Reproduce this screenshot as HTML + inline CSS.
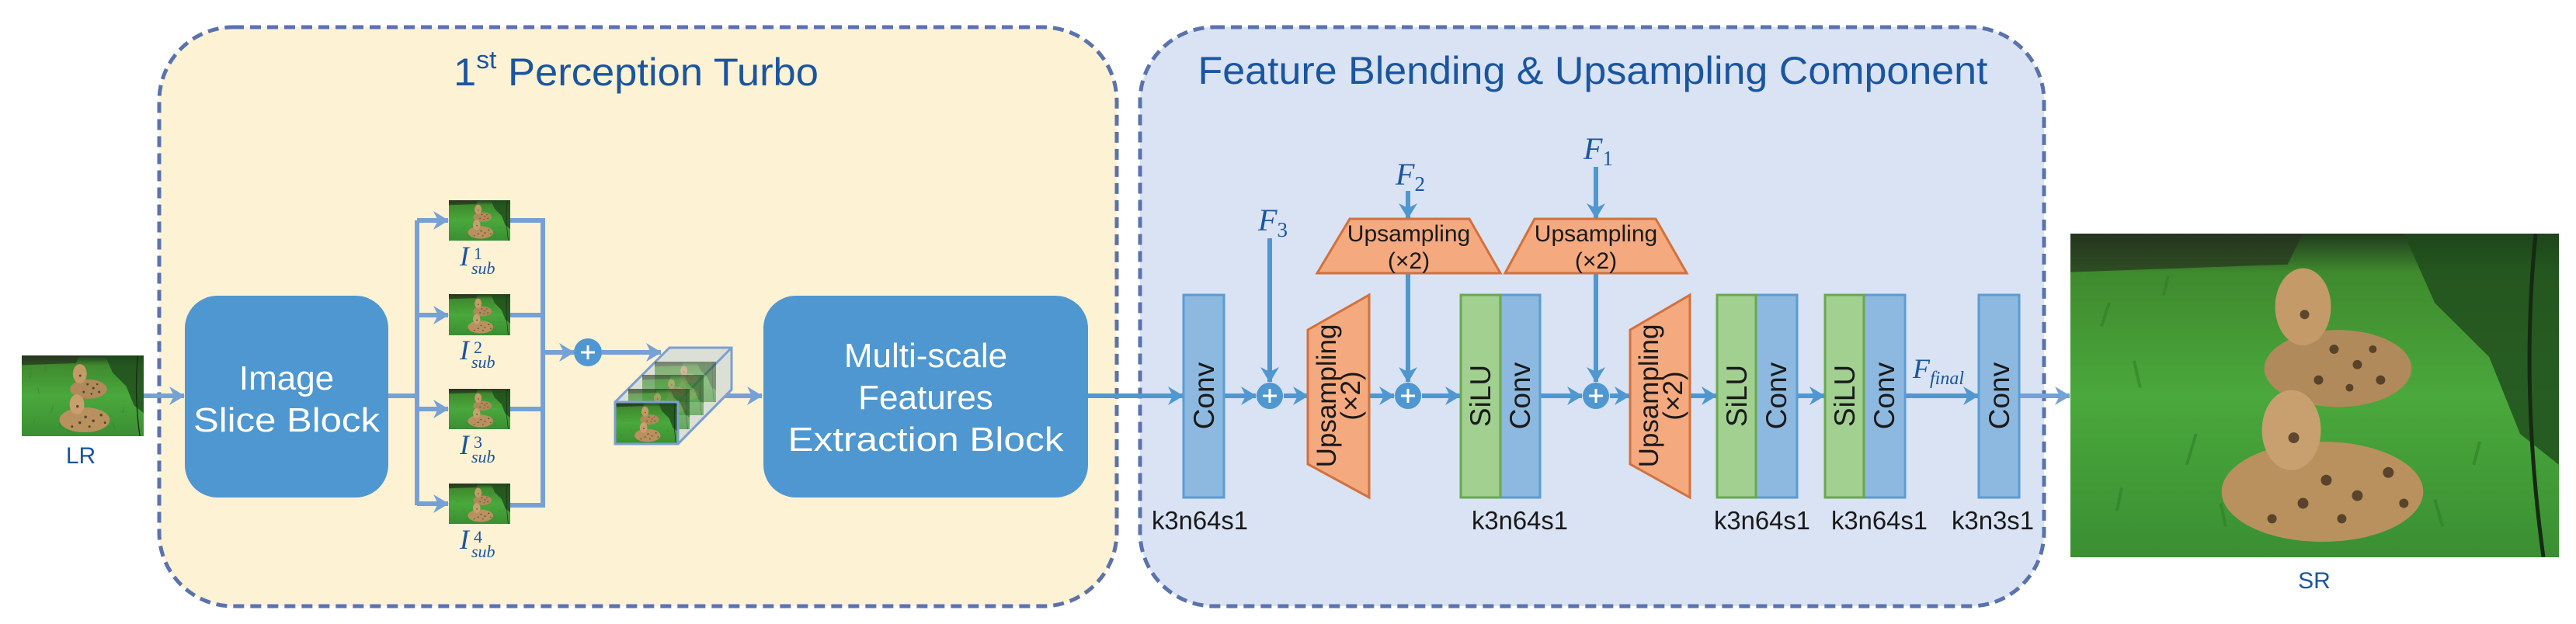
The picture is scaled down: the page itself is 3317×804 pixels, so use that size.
<!DOCTYPE html>
<html><head><meta charset="utf-8"><style>
html,body{margin:0;padding:0;background:#fff;}
svg{display:block;}
</style></head><body>
<svg width="3317" height="804" viewBox="0 0 3317 804" xmlns="http://www.w3.org/2000/svg">
<defs>
<linearGradient id="gr" x1="0" y1="0" x2="0" y2="1">
<stop offset="0" stop-color="#1f3a1c"/><stop offset="0.12" stop-color="#3f8a2e"/><stop offset="0.5" stop-color="#4aa83c"/><stop offset="1" stop-color="#3a8f32"/>
</linearGradient>
<symbol id="scene" viewBox="0 0 630 420" preserveAspectRatio="none">
<rect width="630" height="420" fill="url(#gr)"/>
<path d="M430 0 L630 0 L630 300 L580 260 L540 160 L470 90 Z" fill="#1e4a1c" opacity="0.8"/>
<path d="M0 0 L300 0 L280 40 L0 50 Z" fill="#28331f" opacity="0.7"/>
<g stroke="#2f7a26" stroke-width="4" opacity="0.5">
<path d="M40 120 l10 -30 M90 200 l-8 -35 M150 300 l12 -40 M60 360 l6 -30 M480 380 l-10 -35 M520 300 l8 -30 M120 80 l6 -25 M200 380 l-6 -30"/>
</g>
<ellipse cx="345" cy="175" rx="95" ry="50" fill="#b08a5a"/>
<ellipse cx="300" cy="95" rx="36" ry="50" fill="#c49a68"/>
<ellipse cx="325" cy="335" rx="130" ry="65" fill="#b8915f"/>
<ellipse cx="285" cy="255" rx="38" ry="52" fill="#c8a070"/>
<g fill="#3a2a1a" opacity="0.75">
<circle cx="340" cy="150" r="6"/><circle cx="370" cy="170" r="6"/><circle cx="400" cy="190" r="6"/><circle cx="320" cy="190" r="6"/><circle cx="360" cy="200" r="5"/><circle cx="390" cy="150" r="5"/>
<circle cx="330" cy="320" r="7"/><circle cx="370" cy="340" r="7"/><circle cx="410" cy="310" r="7"/><circle cx="300" cy="350" r="7"/><circle cx="260" cy="370" r="6"/><circle cx="430" cy="350" r="6"/><circle cx="350" cy="370" r="6"/>
<circle cx="288" cy="265" r="7"/><circle cx="302" cy="105" r="6"/>
</g>
<path d="M600 0 Q580 200 610 420" stroke="#162a12" stroke-width="5" fill="none"/>
</symbol>
<marker id="ah" viewBox="0 0 20 24" refX="19" refY="12" markerWidth="20" markerHeight="24" markerUnits="userSpaceOnUse" orient="auto">
<path d="M0 0 L20 12 L0 24 L6 12 Z" fill="#4f97d0"/>
</marker>
<marker id="ah2" viewBox="0 0 20 24" refX="19" refY="12" markerWidth="20" markerHeight="24" markerUnits="userSpaceOnUse" orient="auto">
<path d="M0 0 L20 12 L0 24 L6 12 Z" fill="#76a1d6"/>
</marker>
</defs>

<rect x="205" y="35" width="1233" height="746" rx="95" ry="95" fill="#fdf2d4" stroke="#5a72ae" stroke-width="5" stroke-dasharray="14,8"/>
<rect x="1468" y="35" width="1164" height="746" rx="95" ry="95" fill="#d9e3f4" stroke="#5a72ae" stroke-width="5" stroke-dasharray="14,8"/>

<g font-family="Liberation Sans, sans-serif">
<text x="819" y="110" font-size="50" fill="#1a55a0" text-anchor="middle" textLength="470" lengthAdjust="spacingAndGlyphs">1<tspan font-size="32" dy="-22">st</tspan><tspan dy="22"> Perception Turbo</tspan></text>
<text x="2051" y="108" font-size="50" fill="#1a55a0" text-anchor="middle" textLength="1017" lengthAdjust="spacingAndGlyphs">Feature Blending &amp; Upsampling Component</text>
</g>

<svg x="28" y="458" width="157" height="104"><use href="#scene" width="157" height="104"/></svg>
<text x="104" y="597" font-family="Liberation Sans, sans-serif" font-size="30" fill="#1a55a0" text-anchor="middle">LR</text>
<line x1="185" y1="510" x2="237" y2="510" stroke="#76a1d6" stroke-width="6" marker-end="url(#ah2)"/>

<rect x="238" y="381" width="262" height="260" rx="42" fill="#4f97d0"/>
<g font-family="Liberation Sans, sans-serif" font-size="44" fill="#fff" text-anchor="middle">
<text x="369" y="502">Image</text>
<text x="369" y="556" textLength="240" lengthAdjust="spacingAndGlyphs">Slice Block</text>
</g>

<g stroke="#76a1d6" stroke-width="6" fill="none">
<line x1="500" y1="510" x2="537" y2="510"/>
<line x1="537" y1="284" x2="537" y2="651"/>
<line x1="537" y1="284" x2="577" y2="284" marker-end="url(#ah2)"/>
<line x1="537" y1="406" x2="577" y2="406" marker-end="url(#ah2)"/>
<line x1="537" y1="527" x2="577" y2="527" marker-end="url(#ah2)"/>
<line x1="537" y1="649" x2="577" y2="649" marker-end="url(#ah2)"/>
<polyline points="657,284 699,284 699,651 657,651"/>
<line x1="657" y1="406" x2="699" y2="406"/>
<line x1="657" y1="527" x2="699" y2="527"/>
<line x1="699" y1="454" x2="739" y2="454" marker-end="url(#ah2)"/>
<line x1="775" y1="454" x2="851" y2="454" marker-end="url(#ah2)"/>
<line x1="907" y1="510" x2="981" y2="510" marker-end="url(#ah2)"/>
</g>
<svg x="578" y="258" width="79" height="52"><use href="#scene" width="79" height="52"/></svg>
<svg x="578" y="379" width="79" height="53"><use href="#scene" width="79" height="53"/></svg>
<svg x="578" y="501" width="79" height="52"><use href="#scene" width="79" height="52"/></svg>
<svg x="578" y="623" width="79" height="52"><use href="#scene" width="79" height="52"/></svg>
<g font-family="Liberation Serif, serif" font-style="italic" fill="#1a55a0">
<text x="592" y="342" font-size="36">I</text><text x="610" y="334" font-size="22" font-style="normal">1</text><text x="607" y="353" font-size="22">sub</text>
<text x="592" y="463" font-size="36">I</text><text x="610" y="455" font-size="22" font-style="normal">2</text><text x="607" y="474" font-size="22">sub</text>
<text x="592" y="585" font-size="36">I</text><text x="610" y="577" font-size="22" font-style="normal">3</text><text x="607" y="596" font-size="22">sub</text>
<text x="592" y="707" font-size="36">I</text><text x="610" y="699" font-size="22" font-style="normal">4</text><text x="607" y="718" font-size="22">sub</text>
</g>
<circle cx="757" cy="454" r="18" fill="#4f97d0"/>
<path d="M757 445 V463 M748 454 H766" stroke="#fff" stroke-width="3"/>

<polygon points="792,518 862,448 942,448 942,502 873,572 792,572" fill="#dcdfd6" stroke="#7b9fd0" stroke-width="3"/>
<line x1="873" y1="518" x2="942" y2="448" stroke="#7b9fd0" stroke-width="3"/>
<svg x="843" y="466" width="79" height="52" opacity="0.55"><use href="#scene" width="79" height="52"/></svg>
<svg x="827" y="483" width="79" height="52" opacity="0.6"><use href="#scene" width="79" height="52"/></svg>
<svg x="809" y="501" width="79" height="52" opacity="0.7"><use href="#scene" width="79" height="52"/></svg>
<svg x="792" y="518" width="81" height="54"><use href="#scene" width="81" height="54"/></svg>
<rect x="792" y="518" width="81" height="54" fill="none" stroke="#7b9fd0" stroke-width="3"/>
<line x1="873" y1="572" x2="942" y2="502" stroke="#7b9fd0" stroke-width="3"/>

<rect x="983" y="381" width="418" height="260" rx="42" fill="#4f97d0"/>
<g font-family="Liberation Sans, sans-serif" font-size="44" fill="#fff" text-anchor="middle">
<text x="1192" y="473">Multi-scale</text>
<text x="1192" y="527">Features</text>
<text x="1192" y="581" textLength="355" lengthAdjust="spacingAndGlyphs">Extraction Block</text>
</g>

<g stroke="#4f97d0" stroke-width="6" fill="none">
<line x1="1401" y1="510" x2="1523" y2="510" marker-end="url(#ah)"/>
<line x1="1576" y1="510" x2="1617" y2="510" marker-end="url(#ah)"/>
<line x1="1653" y1="510" x2="1684" y2="510" marker-end="url(#ah)"/>
<line x1="1762" y1="510" x2="1795" y2="510" marker-end="url(#ah)"/>
<line x1="1831" y1="510" x2="1880" y2="510" marker-end="url(#ah)"/>
<line x1="1983" y1="510" x2="2037" y2="510" marker-end="url(#ah)"/>
<line x1="2073" y1="510" x2="2098" y2="510" marker-end="url(#ah)"/>
<line x1="2176" y1="510" x2="2210" y2="510" marker-end="url(#ah)"/>
<line x1="2314" y1="510" x2="2349" y2="510" marker-end="url(#ah)"/>
<line x1="2453" y1="510" x2="2547" y2="510" marker-end="url(#ah)"/>
<line x1="2600" y1="510" x2="2665" y2="510" stroke="#76a1d6" marker-end="url(#ah2)"/>
<line x1="1635" y1="307" x2="1635" y2="492" marker-end="url(#ah)"/>
<line x1="1813" y1="246" x2="1813" y2="281" marker-end="url(#ah)"/>
<line x1="1813" y1="352" x2="1813" y2="492" marker-end="url(#ah)"/>
<line x1="2055" y1="215" x2="2055" y2="281" marker-end="url(#ah)"/>
<line x1="2055" y1="352" x2="2055" y2="492" marker-end="url(#ah)"/>
</g>
<g fill="#4f97d0">
<circle cx="1635" cy="510" r="17"/><circle cx="1813" cy="510" r="17"/><circle cx="2055" cy="510" r="17"/>
</g>
<path d="M1635 501 V519 M1626 510 H1644 M1813 501 V519 M1804 510 H1822 M2055 501 V519 M2046 510 H2064" stroke="#fff" stroke-width="3"/>

<g font-family="Liberation Serif, serif" font-style="italic" fill="#1a55a0">
<text x="1620" y="297" font-size="40">F<tspan font-size="27" dy="8" font-style="normal">3</tspan></text>
<text x="1797" y="238" font-size="40">F<tspan font-size="27" dy="8" font-style="normal">2</tspan></text>
<text x="2039" y="205" font-size="40">F<tspan font-size="27" dy="8" font-style="normal">1</tspan></text>
<text x="2463" y="487" font-size="36">F<tspan font-size="24" dy="8">final</tspan></text>
</g>

<g stroke="#5b9bd5" stroke-width="3" fill="#8db9e0">
<rect x="1524" y="380" width="52" height="261"/>
<rect x="1932" y="380" width="51" height="261"/>
<rect x="2261" y="380" width="53" height="261"/>
<rect x="2400" y="380" width="53" height="261"/>
<rect x="2548" y="380" width="52" height="261"/>
</g>
<g stroke="#6aa84f" stroke-width="3" fill="#a1d091">
<rect x="1881" y="380" width="51" height="261"/>
<rect x="2211" y="380" width="50" height="261"/>
<rect x="2350" y="380" width="50" height="261"/>
</g>
<g fill="#f4a97f" stroke="#d2713c" stroke-width="3">
<polygon points="1738,282 1892,282 1932,352 1696,352"/>
<polygon points="1976,282 2132,282 2172,352 1938,352"/>
<polygon points="1684,425 1763,380 1763,641 1684,598"/>
<polygon points="2099,425 2176,380 2176,641 2099,598"/>
</g>
<g font-family="Liberation Sans, sans-serif" font-size="30" fill="#1a1a1a" text-anchor="middle">
<text x="1814" y="311">Upsampling</text><text x="1814" y="346">(×2)</text>
<text x="2055" y="311">Upsampling</text><text x="2055" y="346">(×2)</text>
</g>
<g font-family="Liberation Sans, sans-serif" fill="#1a1a1a" text-anchor="middle">
<text transform="translate(1563,510) rotate(-90)" font-size="37">Conv</text>
<text transform="translate(1970,510) rotate(-90)" font-size="37">Conv</text>
<text transform="translate(2300,510) rotate(-90)" font-size="37">Conv</text>
<text transform="translate(2439,510) rotate(-90)" font-size="37">Conv</text>
<text transform="translate(2587,510) rotate(-90)" font-size="37">Conv</text>
<text transform="translate(1919,510) rotate(-90)" font-size="37">SiLU</text>
<text transform="translate(2249,510) rotate(-90)" font-size="37">SiLU</text>
<text transform="translate(2388,510) rotate(-90)" font-size="37">SiLU</text>
<text transform="translate(1720,510) rotate(-90)" font-size="35">Upsampling</text>
<text transform="translate(1751,510) rotate(-90)" font-size="35">(×2)</text>
<text transform="translate(2135,510) rotate(-90)" font-size="35">Upsampling</text>
<text transform="translate(2166,510) rotate(-90)" font-size="35">(×2)</text>
</g>
<g font-family="Liberation Sans, sans-serif" font-size="33" fill="#1a1a1a" text-anchor="middle">
<text x="1545" y="682" textLength="124" lengthAdjust="spacingAndGlyphs">k3n64s1</text>
<text x="1957" y="682" textLength="124" lengthAdjust="spacingAndGlyphs">k3n64s1</text>
<text x="2269" y="682" textLength="124" lengthAdjust="spacingAndGlyphs">k3n64s1</text>
<text x="2420" y="682" textLength="124" lengthAdjust="spacingAndGlyphs">k3n64s1</text>
<text x="2566" y="682" textLength="106" lengthAdjust="spacingAndGlyphs">k3n3s1</text>
</g>

<svg x="2666" y="301" width="629" height="417"><use href="#scene" width="629" height="417"/></svg>
<text x="2980" y="758" font-family="Liberation Sans, sans-serif" font-size="30" fill="#1a55a0" text-anchor="middle">SR</text>
</svg>
</body></html>
